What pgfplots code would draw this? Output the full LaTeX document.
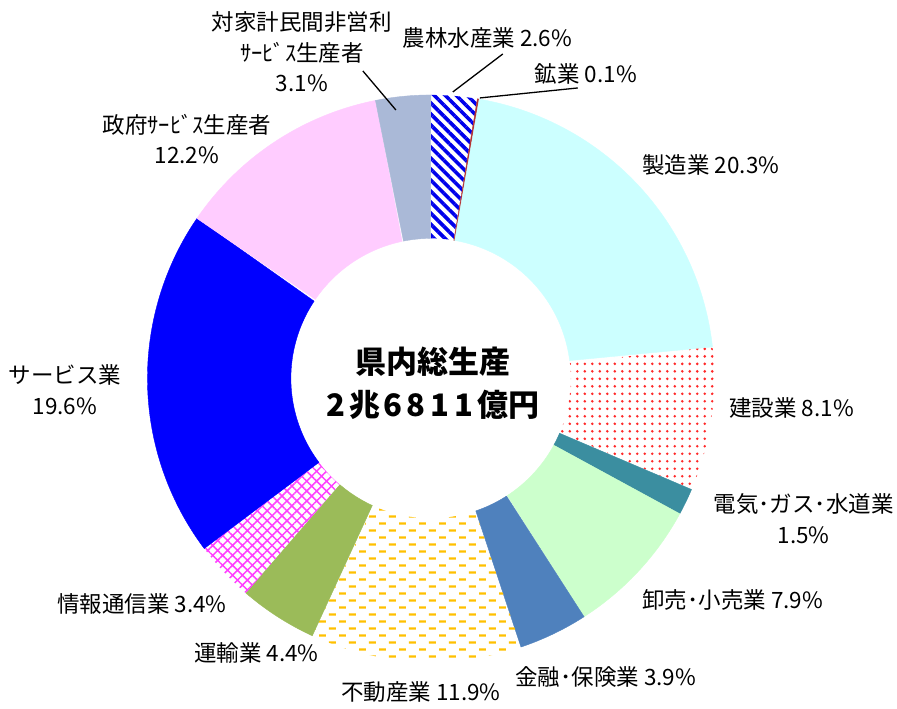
\documentclass[border=0pt]{standalone}
\usepackage{fontspec}
\setmainfont{Noto Sans CJK JP}
\usepackage{pgfplots}
\pgfplotsset{compat=1.18}
\usetikzlibrary{patterns,patterns.meta}

\definecolor{cCyan}{RGB}{204,255,255}
\definecolor{cGreen}{RGB}{204,255,204}
\definecolor{cTeal}{RGB}{59,142,160}
\definecolor{cSteel}{RGB}{79,129,189}
\definecolor{cOlive}{RGB}{155,187,89}
\definecolor{cBlue}{RGB}{0,0,255}
\definecolor{cPink}{RGB}{255,204,255}
\definecolor{cGray}{RGB}{170,185,215}
\definecolor{cRed}{RGB}{180,50,50}
\definecolor{cDot}{RGB}{255,40,40}
\definecolor{cDash}{RGB}{255,192,0}
\definecolor{cMag}{RGB}{255,64,255}
\definecolor{cStripe}{RGB}{0,0,235}

\pgfdeclarepatternformonly{hdash}{\pgfqpoint{0pt}{0pt}}{\pgfqpoint{20pt}{14pt}}{\pgfqpoint{20pt}{14pt}}{%
  \pgfsetlinewidth{2.4pt}%
  \pgfpathmoveto{\pgfqpoint{0pt}{3.5pt}}\pgfpathlineto{\pgfqpoint{7pt}{3.5pt}}%
  \pgfpathmoveto{\pgfqpoint{10pt}{10.5pt}}\pgfpathlineto{\pgfqpoint{17pt}{10.5pt}}%
  \pgfusepath{stroke}}

% donut geometry (1 unit = 1 px of the reference)
\def\cx{431}\def\cy{330.5}\def\Ro{283.5}\def\Ri{140}
\def\tot{99.0}
\def\cum{0}
\newcommand\sector[2]{%
  \pgfmathsetmacro\aS{90-(360/\tot)*\cum}%
  \pgfmathsetmacro\cumN{\cum+#1}%
  \pgfmathsetmacro\aE{90-(360/\tot)*\cumN}%
  \xdef\cum{\cumN}%
  \edef\tmp{\noexpand\addplot[draw=none,#2,domain=0:2,samples=161]
    ({\cx+((x<=1)?(\Ro):(\Ri))*cos((x<=1)?((\aS)+((\aE)-(\aS))*x):((\aE)+((\aS)-(\aE))*(x-1)))},
     {\cy+((x<=1)?(\Ro):(\Ri))*sin((x<=1)?((\aS)+((\aE)-(\aS))*x):((\aE)+((\aS)-(\aE))*(x-1)))}) -- cycle;}%
  \tmp}
\newcommand\solid[1]{fill=#1,draw=#1,line width=0.4pt}

\newcommand\lbl{\fontsize{22.5}{30.5}\selectfont}

\begin{document}
\begin{tikzpicture}
\begin{axis}[width=897pt,height=709pt,scale only axis,
  xmin=0,xmax=897,ymin=0,ymax=709,hide axis,clip=false]
\path (axis cs:0,0) rectangle (axis cs:897,709);
% values (percent), clockwise from top
\sector{2.6}{pattern={Lines[angle=-45,distance=7.8pt,line width=3.6pt]},pattern color=cStripe}   % 農林水産業
\sector{0.1}{\solid{cRed}}      % 鉱業
\sector{20.3}{\solid{cCyan}}    % 製造業
\sector{8.1}{pattern={Dots[distance=7.5pt,radius=1.4pt]},pattern color=cDot} % 建設業
\sector{1.5}{\solid{cTeal}}     % 電気・ガス・水道業
\sector{7.9}{\solid{cGreen}}    % 卸売・小売業
\sector{3.9}{\solid{cSteel}}    % 金融・保険業
\sector{11.9}{pattern=hdash,pattern color=cDash} % 不動産業
\sector{4.4}{\solid{cOlive}}    % 運輸業
\sector{3.4}{pattern={Hatch[angle=45,distance=7pt,line width=1.5pt]},pattern color=cMag} % 情報通信業
\sector{19.6}{\solid{cBlue}}    % サービス業
\sector{12.2}{\solid{cPink}}    % 政府サービス生産者
\sector{3.1}{\solid{cGray}}     % 対家計民間非営利サービス生産者

% leader lines
\addplot[black,line width=1.3pt] coordinates {(453,617) (503,655)};
\addplot[black,line width=1.3pt] coordinates {(480,611) (578,621)};
\addplot[black,line width=1.3pt] coordinates {(363,638) (396,599)};

% labels
\node[font=\lbl,align=center] at (axis cs:302,657) {対家計民間非営利\\ｻｰﾋﾞｽ生産者\\3.1\%};
\node[font=\lbl] at (axis cs:487.5,671.5) {農林水産業 2.6\%};
\node[font=\lbl] at (axis cs:586,635.5) {鉱業 0.1\%};
\node[font=\lbl] at (axis cs:711,544) {製造業 20.3\%};
\node[font=\lbl] at (axis cs:792,301) {建設業 8.1\%};
\node[font=\lbl,align=center] at (axis cs:804,190) {電気･ガス･水道業\\1.5\%};
\node[font=\lbl] at (axis cs:733,109) {卸売･小売業 7.9\%};
\node[font=\lbl] at (axis cs:606,32) {金融･保険業 3.9\%};
\node[font=\lbl] at (axis cs:421,17) {不動産業 11.9\%};
\node[font=\lbl] at (axis cs:256.5,56) {運輸業 4.4\%};
\node[font=\lbl] at (axis cs:142,105) {情報通信業 3.4\%};
\node[font=\lbl,align=center] at (axis cs:65,319) {サービス業\\19.6\%};
\node[font=\lbl,align=center] at (axis cs:187,570) {政府ｻｰﾋﾞｽ生産者\\12.2\%};

% centre
\node[font=\fontsize{31}{40}\selectfont\bfseries] at (axis cs:433,347) {県内総生産};
\node[font=\fontsize{31}{40}\selectfont\bfseries] at (axis cs:433,304) {2\kern4pt 兆\kern3pt 6\kern5pt 8\kern5pt 1\kern5pt 1\kern4pt 億円};
\end{axis}
\end{tikzpicture}
\end{document}
